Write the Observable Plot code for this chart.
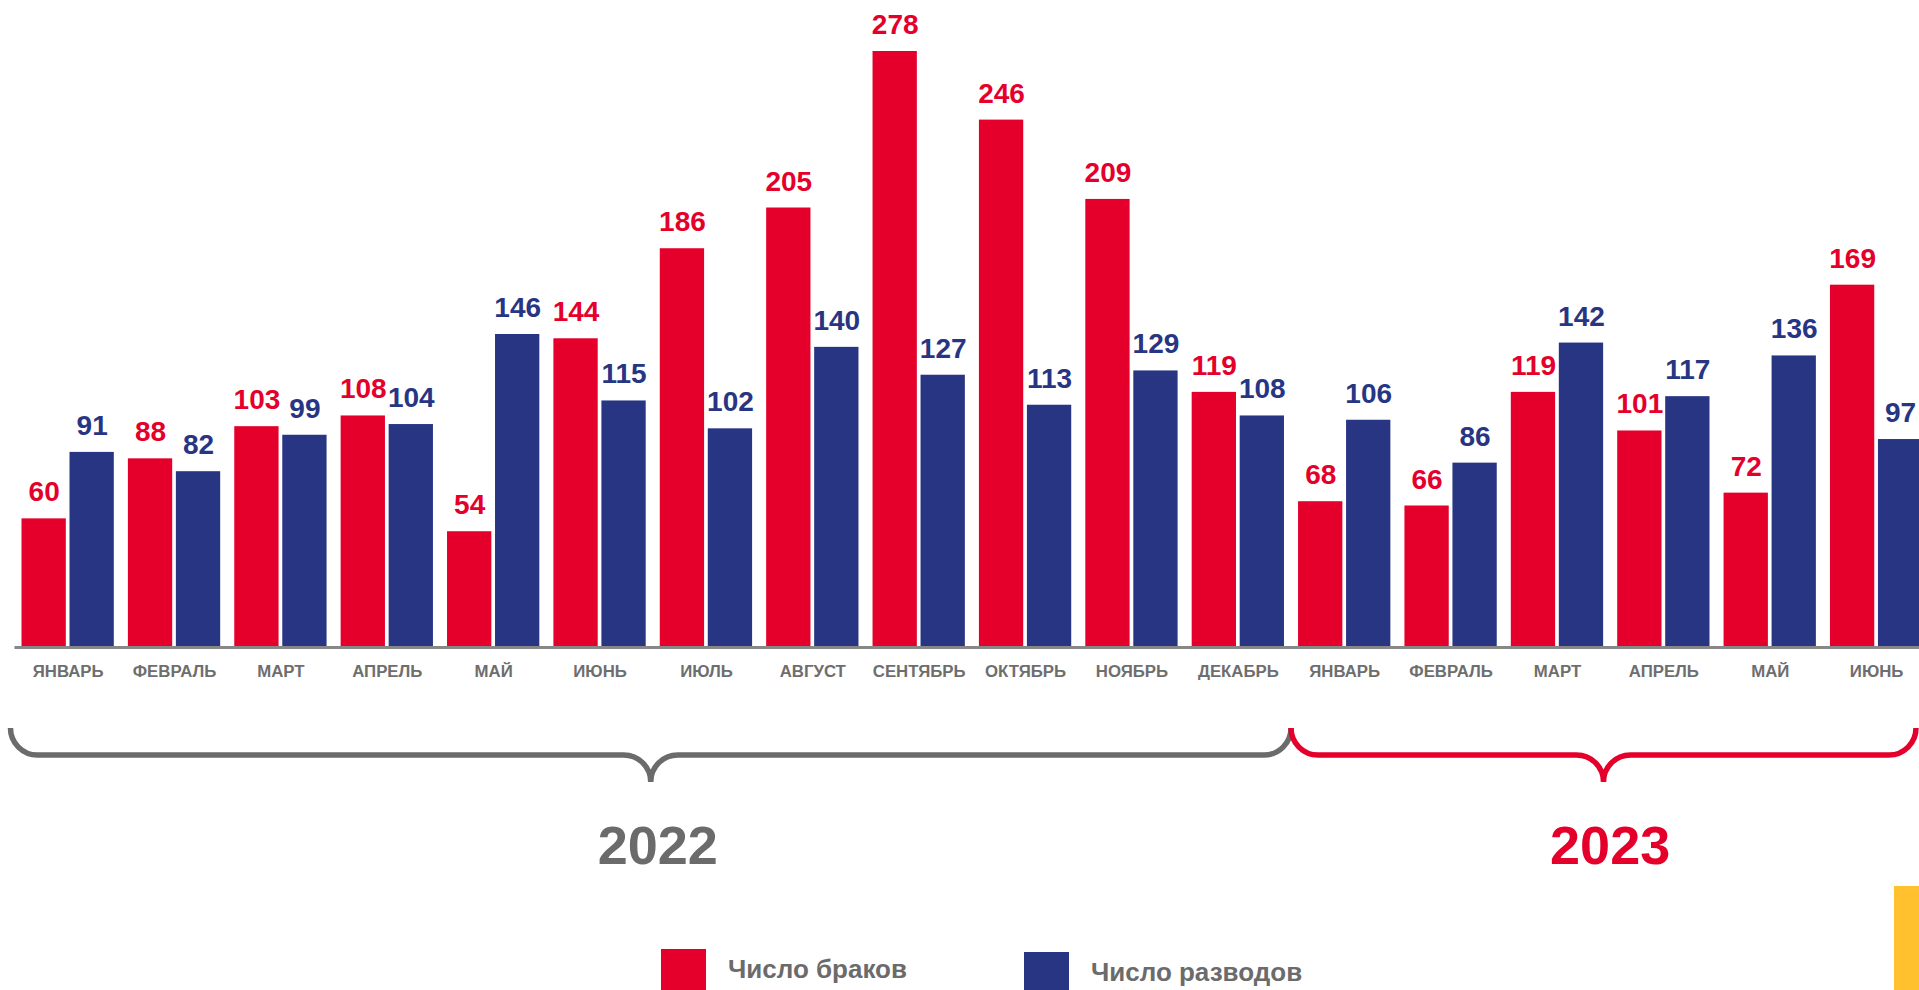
<!DOCTYPE html>
<html>
<head>
<meta charset="utf-8">
<script src="https://cdn.jsdelivr.net/npm/d3@7"></script>
<script src="https://cdn.jsdelivr.net/npm/@observablehq/plot@0.6"></script>
<style>
  html, body { margin: 0; padding: 0; background: #fff; overflow: hidden; }
  #chart svg { display: block; }
</style>
</head>
<body>
<div id="chart"></div>
<script>
// ---- data ----
const months = ["ЯНВАРЬ","ФЕВРАЛЬ","МАРТ","АПРЕЛЬ","МАЙ","ИЮНЬ","ИЮЛЬ","АВГУСТ","СЕНТЯБРЬ","ОКТЯБРЬ","НОЯБРЬ","ДЕКАБРЬ",
                "ЯНВАРЬ","ФЕВРАЛЬ","МАРТ","АПРЕЛЬ","МАЙ","ИЮНЬ"];
const marriages = [60, 88, 103, 108, 54, 144, 186, 205, 278, 246, 209, 119, 68, 66, 119, 101, 72, 169];
const divorces  = [91, 82, 99, 104, 146, 115, 102, 140, 127, 113, 129, 108, 106, 86, 142, 117, 136, 97];
const yearLabels = ["2022", "2023"];
const yearMonthCounts = [12, 6];
const seriesNames = ["Число браков", "Число разводов"];
const seriesColors = ["#E4002B", "#283583"];
const yearColors = ["#6B6B6B", "#E4002B"];

const rows = [];
months.forEach((m, i) => {
  rows.push({i, series: seriesNames[0], value: marriages[i]});
  rows.push({i, series: seriesNames[1], value: divorces[i]});
});
const monthRows = months.map((m, i) => ({i, m}));

const W = 1919, H = 990;
const FONT = "'Liberation Sans', Arial, sans-serif";

const chart = Plot.plot({
  width: W,
  height: H,
  marginTop: 51,
  marginBottom: 343,
  marginLeft: 14.46,
  marginRight: -10.3,
  style: {fontFamily: FONT, background: "#fff", maxWidth: "none"},
  fx: {domain: d3.range(months.length), paddingInner: 0.1323, paddingOuter: 0.0662, round: false, axis: null, label: null},
  x: {domain: seriesNames, paddingInner: 0.077, paddingOuter: 0, round: false, axis: null},
  y: {domain: [0, 278], axis: null},
  color: {domain: seriesNames, range: seriesColors},
  marks: [
    Plot.barY(rows, {fx: "i", x: "series", y: "value", fill: "series", inset: 0}),
    Plot.text(rows, {fx: "i", x: "series", y: "value", text: d => String(d.value), fill: "series",
      dy: -17.5, lineAnchor: "bottom", fontSize: 28, fontWeight: "bold"}),
    Plot.text(monthRows, {fx: "i", text: "m", frameAnchor: "bottom", dy: 24, lineAnchor: "middle",
      fill: "#6E6E6E", fontSize: 16.8, fontWeight: "bold"})
  ]
});
document.getElementById("chart").appendChild(chart);

// ---- decorations using the plot's scales ----
const svg = d3.select(chart);
const fx = chart.scale("fx");
const ys = chart.scale("y");
const bw = fx.bandwidth;
const step = fx.step ?? (fx.apply(1) - fx.apply(0));
const gap = step - bw;
const bound = k => k < months.length ? fx.apply(k) - gap / 2 : fx.apply(months.length - 1) + bw + gap / 2;
const y0 = ys.apply(0);

// baseline
svg.append("line")
  .attr("x1", bound(0)).attr("x2", W)
  .attr("y1", y0 + 0.5).attr("y2", y0 + 0.5)
  .attr("stroke", "#878787").attr("stroke-width", 3);

// braces + year labels
const yT = y0 + 81, r = 27, yH = yT + r, yTip = yH + r;
let start = 0;
yearLabels.forEach((label, k) => {
  const end = start + yearMonthCounts[k];
  let x0 = bound(start), x1 = bound(end);
  const xm = (x0 + x1) / 2;
  if (k === 0) x0 -= 4;
  if (k === yearLabels.length - 1) x1 = Math.min(x1, W - 3);
  const bm = (x0 + x1) / 2;
  const p = `M${x0},${yT} A${r},${r} 0 0 0 ${x0 + r},${yH} L${bm - r},${yH} A${r},${r} 0 0 1 ${bm},${yTip}` +
            ` M${bm},${yTip} A${r},${r} 0 0 1 ${bm + r},${yH} L${x1 - r},${yH} A${r},${r} 0 0 0 ${x1},${yT}`;
  svg.append("path").attr("d", p).attr("fill", "none")
    .attr("stroke", yearColors[k]).attr("stroke-width", 5.5);
  svg.append("text").text(label)
    .attr("x", xm + (k === 0 ? 5 : 0)).attr("y", y0 + 217)
    .attr("text-anchor", "middle")
    .attr("font-family", FONT).attr("font-weight", "bold").attr("font-size", 54)
    .attr("fill", yearColors[k]);
  start = end;
});

// legend
const legendX = [661, 1024];
const legendY = [949, 952];
seriesNames.forEach((name, k) => {
  svg.append("rect").attr("x", legendX[k]).attr("y", legendY[k])
    .attr("width", 45).attr("height", 60).attr("fill", seriesColors[k]);
  svg.append("text").text(name)
    .attr("x", legendX[k] + 67).attr("y", legendY[k] + 29)
    .attr("text-anchor", "start")
    .attr("font-family", FONT).attr("font-weight", "bold").attr("font-size", 26)
    .attr("fill", "#6B6B6B");
});

// yellow corner tab
svg.append("rect").attr("x", 1894).attr("y", 886).attr("width", 40).attr("height", 120).attr("fill", "#FFC12E");
</script>
</body>
</html>
